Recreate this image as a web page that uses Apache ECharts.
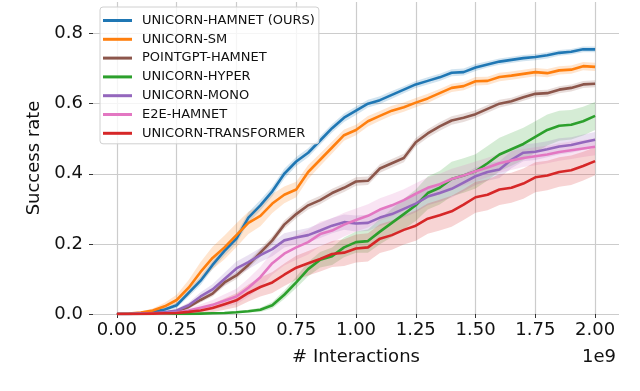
<!DOCTYPE html>
<html>

<head>
    <meta charset="utf-8" />
    <title>Success rate</title>
    <script src="https://cdn.jsdelivr.net/npm/echarts@6/dist/echarts.min.js"></script>
</head>

<body style="margin:0">
    <div id="main" style="width:640px;height:391px;"></div>
    <script type="text/javascript">
        // x in units of 1e9 interactions
        var xs = [0, 0.05, 0.1, 0.15, 0.2, 0.25, 0.3, 0.35, 0.4, 0.45, 0.5, 0.55, 0.6, 0.65, 0.7, 0.75, 0.8, 0.85, 0.9, 0.95,
            1.0, 1.05, 1.1, 1.15, 1.2, 1.25, 1.3, 1.35, 1.4, 1.45, 1.5, 1.55, 1.6, 1.65, 1.7, 1.75, 1.8, 1.85, 1.9, 1.95, 2.0]
        var xTicks = [0, 0.25, 0.5, 0.75, 1.0, 1.25, 1.5, 1.75, 2.0]
        var yTicks = [0, 0.2, 0.4, 0.6, 0.8]

        var names = ['UNICORN-HAMNET (OURS)', 'UNICORN-SM', 'POINTGPT-HAMNET', 'UNICORN-HYPER',
            'UNICORN-MONO', 'E2E-HAMNET', 'UNICORN-TRANSFORMER']
        var colors = ['#1f77b4', '#ff7f0e', '#8c564b', '#2ca02c', '#9467bd', '#e377c2', '#d62728']

        // mean success rate
        var hamnet = [0, 0, 0.002, 0.006, 0.013, 0.025, 0.06, 0.095, 0.14, 0.18, 0.215, 0.275, 0.31, 0.35, 0.40, 0.435, 0.46, 0.495, 0.53, 0.56,
            0.58, 0.6, 0.61, 0.625, 0.64, 0.655, 0.665, 0.675, 0.688, 0.69, 0.703, 0.712, 0.72, 0.725, 0.73, 0.733, 0.738, 0.745, 0.748, 0.755, 0.755]
        var sm = [0, 0.001, 0.004, 0.01, 0.022, 0.04, 0.075, 0.12, 0.16, 0.19, 0.225, 0.26, 0.28, 0.315, 0.34, 0.355, 0.405, 0.44, 0.475, 0.51,
            0.525, 0.55, 0.565, 0.58, 0.59, 0.603, 0.615, 0.63, 0.645, 0.65, 0.664, 0.665, 0.676, 0.68, 0.685, 0.69, 0.687, 0.695, 0.697, 0.707, 0.705]
        var pointgpt = [0, 0, 0.001, 0.002, 0.004, 0.008, 0.02, 0.04, 0.058, 0.09, 0.11, 0.14, 0.175, 0.21, 0.255, 0.285, 0.31, 0.325, 0.345, 0.36,
            0.378, 0.38, 0.415, 0.43, 0.445, 0.49, 0.515, 0.535, 0.552, 0.56, 0.57, 0.585, 0.6, 0.607, 0.618, 0.628, 0.63, 0.64, 0.645, 0.655, 0.657]
        var hyper = [0, 0, 0, 0, 0, 0, 0, 0.001, 0.002, 0.003, 0.005, 0.008, 0.012, 0.025, 0.055, 0.09, 0.128, 0.155, 0.165, 0.19,
            0.205, 0.208, 0.235, 0.26, 0.285, 0.31, 0.345, 0.36, 0.385, 0.395, 0.407, 0.43, 0.455, 0.47, 0.485, 0.505, 0.525, 0.537, 0.54, 0.55, 0.565]
        var mono = [0, 0, 0.001, 0.002, 0.005, 0.01, 0.025, 0.05, 0.07, 0.1, 0.13, 0.148, 0.168, 0.185, 0.21, 0.218, 0.225, 0.238, 0.252, 0.262,
            0.258, 0.26, 0.275, 0.285, 0.3, 0.315, 0.335, 0.345, 0.357, 0.375, 0.393, 0.405, 0.412, 0.44, 0.46, 0.463, 0.47, 0.478, 0.482, 0.49, 0.497]
        var e2e = [0, 0, 0, 0.001, 0.002, 0.004, 0.01, 0.018, 0.026, 0.038, 0.05, 0.075, 0.105, 0.145, 0.172, 0.19, 0.205, 0.228, 0.238, 0.255,
            0.268, 0.28, 0.298, 0.31, 0.325, 0.343, 0.36, 0.37, 0.385, 0.395, 0.407, 0.418, 0.43, 0.438, 0.445, 0.45, 0.455, 0.462, 0.467, 0.472, 0.477]
        var transformer = [0, 0, 0, 0.001, 0.002, 0.003, 0.006, 0.01, 0.017, 0.028, 0.039, 0.06, 0.077, 0.09, 0.112, 0.132, 0.145, 0.157, 0.171, 0.175,
            0.187, 0.19, 0.215, 0.225, 0.24, 0.252, 0.272, 0.282, 0.293, 0.312, 0.333, 0.34, 0.355, 0.36, 0.372, 0.39, 0.395, 0.405, 0.41, 0.422, 0.436]

        // half width of the shaded band
        var hamnetSpread = [0, 0, 0.001, 0.003, 0.005, 0.008, 0.01, 0.012, 0.012, 0.014, 0.014, 0.015, 0.015, 0.014, 0.014, 0.013, 0.013, 0.012, 0.012, 0.012,
            0.012, 0.011, 0.011, 0.011, 0.01, 0.01, 0.01, 0.01, 0.01, 0.01, 0.01, 0.009, 0.009, 0.009, 0.009, 0.009, 0.009, 0.008, 0.008, 0.008, 0.008]
        var smSpread = [0, 0.001, 0.003, 0.006, 0.01, 0.015, 0.022, 0.028, 0.032, 0.034, 0.034, 0.032, 0.03, 0.027, 0.024, 0.022, 0.02, 0.018, 0.017, 0.016,
            0.015, 0.015, 0.014, 0.014, 0.013, 0.013, 0.013, 0.012, 0.012, 0.012, 0.012, 0.012, 0.012, 0.012, 0.012, 0.012, 0.012, 0.012, 0.012, 0.012, 0.012]
        var pointgptSpread = [0, 0, 0, 0.001, 0.002, 0.003, 0.005, 0.007, 0.008, 0.01, 0.01, 0.011, 0.012, 0.012, 0.012, 0.012, 0.012, 0.012, 0.012, 0.012,
            0.012, 0.012, 0.012, 0.012, 0.012, 0.012, 0.012, 0.012, 0.012, 0.012, 0.011, 0.011, 0.011, 0.01, 0.01, 0.01, 0.01, 0.01, 0.01, 0.01, 0.01]
        var hyperSpread = [0, 0, 0, 0, 0, 0, 0, 0.001, 0.001, 0.002, 0.003, 0.004, 0.006, 0.009, 0.012, 0.016, 0.02, 0.022, 0.025, 0.028,
            0.03, 0.033, 0.036, 0.04, 0.043, 0.045, 0.047, 0.048, 0.049, 0.049, 0.049, 0.049, 0.048, 0.047, 0.046, 0.045, 0.044, 0.043, 0.042, 0.041, 0.04]
        var monoSpread = [0, 0, 0.001, 0.001, 0.003, 0.005, 0.008, 0.012, 0.015, 0.018, 0.02, 0.02, 0.02, 0.02, 0.02, 0.02, 0.02, 0.021, 0.022, 0.022,
            0.023, 0.023, 0.024, 0.024, 0.025, 0.025, 0.025, 0.025, 0.025, 0.025, 0.025, 0.025, 0.024, 0.024, 0.024, 0.024, 0.023, 0.023, 0.022, 0.022, 0.022]
        var e2eSpread = [0, 0, 0, 0.001, 0.002, 0.003, 0.006, 0.01, 0.014, 0.018, 0.022, 0.026, 0.03, 0.032, 0.034, 0.035, 0.035, 0.035, 0.035, 0.034,
            0.033, 0.033, 0.032, 0.032, 0.031, 0.03, 0.03, 0.03, 0.029, 0.029, 0.028, 0.028, 0.027, 0.027, 0.026, 0.026, 0.025, 0.025, 0.025, 0.024, 0.024]
        var transformerSpread = [0, 0, 0, 0.001, 0.002, 0.003, 0.005, 0.008, 0.012, 0.016, 0.02, 0.024, 0.027, 0.03, 0.032, 0.034, 0.035, 0.036, 0.037, 0.038,
            0.04, 0.04, 0.041, 0.042, 0.042, 0.043, 0.043, 0.044, 0.044, 0.044, 0.044, 0.044, 0.044, 0.043, 0.043, 0.043, 0.042, 0.042, 0.042, 0.041, 0.04]

        var means = [hamnet, sm, pointgpt, hyper, mono, e2e, transformer]
        var spreads = [hamnetSpread, smSpread, pointgptSpread, hyperSpread, monoSpread, e2eSpread, transformerSpread]

        var font = 'DejaVu Sans'
        var myChart = echarts.init(document.getElementById('main'))

        // band polygon through the axis scales (mean +/- spread)
        function bandRenderer(s) {
            return function (params, api) {
                if (params.dataIndex !== 0) return
                var pts = []
                for (var i = 0; i < xs.length; i++) {
                    pts.push(api.coord([xs[i], means[s][i] + spreads[s][i]]))
                }
                for (var i = xs.length - 1; i >= 0; i--) {
                    pts.push(api.coord([xs[i], Math.max(0, means[s][i] - spreads[s][i])]))
                }
                return {
                    type: 'polygon',
                    shape: { points: pts },
                    style: { fill: colors[s], opacity: 0.2 }
                }
            }
        }

        var series = []
        for (var s = 0; s < names.length; s++) {
            series.push({
                type: 'custom', renderItem: bandRenderer(s), data: [[xs[0], means[s][0]]],
                silent: true, z: 1
            })
        }
        for (var s = 0; s < names.length; s++) {
            var pts = []
            for (var i = 0; i < xs.length; i++) pts.push([xs[i], means[s][i]])
            series.push({
                name: names[s], type: 'line', data: pts, symbol: 'none',
                color: colors[s], lineStyle: { width: 2.6, color: colors[s] }, z: 3
            })
        }

        var option = {
            animation: false,
            backgroundColor: '#fff',
            grid: { left: 93, right: 21, top: 2, bottom: 77 },
            legend: {
                data: names, orient: 'vertical', left: 100, top: 7,
                icon: 'rect', itemWidth: 29, itemHeight: 3, itemGap: 3.8,
                padding: [6, 4, 3, 3],
                backgroundColor: 'rgba(255,255,255,0.8)',
                borderColor: '#d0d0d0', borderWidth: 1, borderRadius: 3,
                textStyle: { fontFamily: font, fontSize: 13, color: '#111', lineHeight: 15, padding: [0, 0, 0, 5] }
            },
            xAxis: {
                type: 'value', min: -0.1, max: 2.1,
                name: '# Interactions', nameLocation: 'middle', nameGap: 34,
                nameTextStyle: { fontFamily: font, fontSize: 18, color: '#111' },
                axisLine: { show: false, onZero: false },
                axisTick: { show: true, length: 4, customValues: xTicks, lineStyle: { color: '#333' } },
                axisLabel: {
                    customValues: xTicks, margin: 7, fontFamily: font, fontSize: 18, color: '#111',
                    formatter: function (v) { return v.toFixed(2) }
                },
                splitLine: { show: true, lineStyle: { color: '#cccccc', width: 1.2 } }
            },
            yAxis: {
                type: 'value', min: 0, max: 0.89,
                name: 'Success rate', nameLocation: 'middle', nameGap: 44,
                nameTextStyle: { fontFamily: font, fontSize: 18, color: '#111' },
                axisLine: { show: false, onZero: false },
                axisTick: { show: true, length: 4, customValues: yTicks, lineStyle: { color: '#333' } },
                axisLabel: {
                    customValues: yTicks, margin: 10, fontFamily: font, fontSize: 18, color: '#111',
                    formatter: function (v) { return v.toFixed(1) }
                },
                splitLine: { show: true, lineStyle: { color: '#cccccc', width: 1.2 } }
            },
            graphic: [{
                type: 'text', right: 24, top: 348,
                style: { text: '1e9', fontFamily: font, fontSize: 18, fill: '#111' }
            }],
            series: series
        }
        myChart.setOption(option)
    </script>
</body>

</html>
